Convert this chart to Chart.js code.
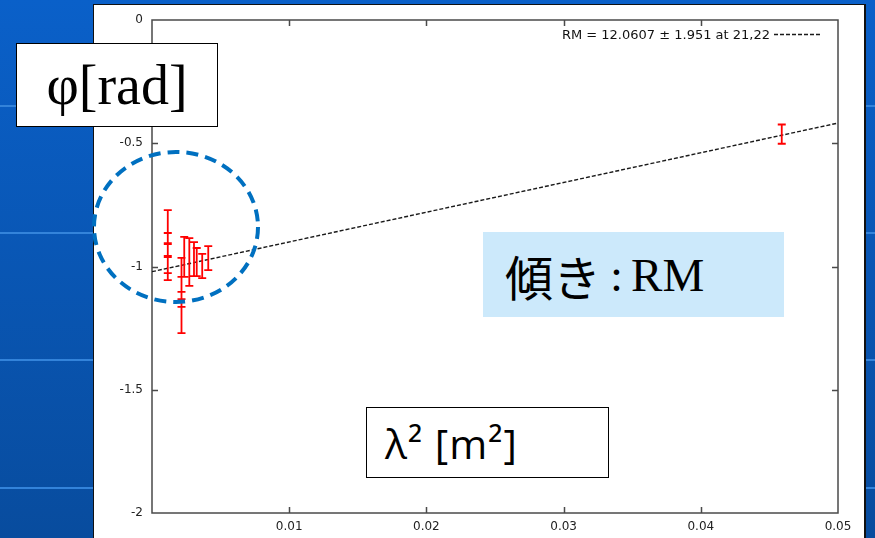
<!DOCTYPE html>
<html>
<head>
<meta charset="utf-8">
<script src="https://cdn.jsdelivr.net/npm/chart.js@4.4.0/dist/chart.umd.min.js"></script>
<style>
html, body { margin: 0; padding: 0; width: 875px; height: 538px; overflow: hidden; }
body { position: relative; background: linear-gradient(#0a60c9, #084c9e); }
.stripe { position: absolute; left: 0; width: 875px; height: 2px; background: #3383da; }
#panel { position: absolute; left: 93px; top: 4px; width: 773px; height: 560px; box-sizing: border-box;
  background: #fff; border: 1px solid #111; border-right-width: 2px; }
#chart { position: absolute; left: 0; top: 0; }
#ring { position: absolute; left: 0; top: 0; }
.box { position: absolute; box-sizing: border-box; display: flex; align-items: center; }
#phiBox { left: 16px; top: 43px; width: 202px; height: 84px; background: #fff; border: 1.5px solid #000;
  justify-content: center; font: 56px "Liberation Serif", serif; color: #000; }
#rmBox { left: 483px; top: 232px; width: 301px; height: 85px; background: #cce9fb; padding-left: 22px; color: #000; }
#rmBox .jp { font: 48px "Noto Sans CJK JP", sans-serif; }
#rmBox .en { font: 47px "Liberation Serif", serif; }
#rmBox .colon { margin: 0 8px 0 9px; }
#lamBox { left: 366px; top: 407px; width: 243px; height: 71px; background: #fff; border: 1.5px solid #000;
  padding-left: 18px; font: 41px "Open Sans", sans-serif; letter-spacing: 1px; color: #000; }
</style>
</head>
<body>
<div class="stripe" style="top:105px"></div>
<div class="stripe" style="top:232px"></div>
<div class="stripe" style="top:359px"></div>
<div class="stripe" style="top:487px"></div>
<div id="panel"></div>
<canvas id="chart" width="875" height="538"></canvas>
<svg id="ring" width="875" height="538">
  <ellipse cx="176" cy="227" rx="82" ry="75" fill="none" stroke="#0070c0" stroke-width="4" stroke-dasharray="12 7"/>
</svg>
<div class="box" id="phiBox">φ[rad]</div>
<div class="box" id="rmBox"><span class="jp">傾き</span><span class="en"><span class="colon">:</span>RM</span></div>
<div class="box" id="lamBox">λ² [m²]</div>

<script>
// measured points (lambda^2 in m^2, phase in rad)
const lambda2 = [0.00115, 0.00115, 0.00115, 0.00115, 0.00215, 0.00215, 0.00215, 0.00235,
                 0.00272, 0.00306, 0.00326, 0.00366, 0.00410, 0.0459];
const phi     = [-0.840, -0.913, -0.966, -1.006, -1.034, -1.103, -1.201, -0.961,
                 -0.982, -0.970, -0.982, -0.998, -0.966, -0.463];
const phiErr  = [0.069, 0.049, 0.061, 0.049, 0.069, 0.061, 0.069, 0.081,
                 0.097, 0.069, 0.057, 0.049, 0.049, 0.039];

// fitted line
const fitLabel = 'RM = 12.0607 \u00b1 1.951 at 21,22';
const fitX   = [0, 0.05];
const fitPhi = [-1.021, -0.418];

const xTicks = [0.01, 0.02, 0.03, 0.04, 0.05];
const yTicks = [0, -0.5, -1, -1.5, -2];

const tickFont = { family: 'DejaVu Sans', size: 12 };

// gnuplot style frame with inward ticks on all four sides
const framePlugin = {
    id: 'frame',
    beforeDatasetsDraw(chart) {
        const ctx = chart.ctx;
        const { left, right, top, bottom } = chart.chartArea;
        const xs = chart.scales.x, ys = chart.scales.y;
        ctx.save();
        ctx.strokeStyle = '#4a4a4a';
        ctx.lineWidth = 1.5;
        ctx.strokeRect(left, top, right - left, bottom - top);
        ctx.beginPath();
        xs.ticks.forEach(t => {
            if (t.value <= xs.min || t.value >= xs.max) return;
            const px = Math.round(xs.getPixelForValue(t.value)) + 0.5;
            ctx.moveTo(px, bottom); ctx.lineTo(px, bottom - 6);
            ctx.moveTo(px, top); ctx.lineTo(px, top + 6);
        });
        ys.ticks.forEach(t => {
            if (t.value <= ys.min || t.value >= ys.max) return;
            const py = Math.round(ys.getPixelForValue(t.value)) + 0.5;
            ctx.moveTo(left, py); ctx.lineTo(left + 6, py);
            ctx.moveTo(right, py); ctx.lineTo(right - 6, py);
        });
        ctx.stroke();
        ctx.restore();
    },
    afterDraw(chart) {
        // key in the top right corner
        const ctx = chart.ctx;
        const ds = chart.data.datasets[0];
        ctx.save();
        ctx.font = '13px "DejaVu Sans"';
        ctx.fillStyle = '#111';
        ctx.textAlign = 'right';
        ctx.textBaseline = 'alphabetic';
        ctx.fillText(ds.label, 770, 38.5);
        ctx.strokeStyle = ds.borderColor;
        ctx.lineWidth = ds.borderWidth;
        ctx.setLineDash(ds.borderDash);
        ctx.beginPath();
        ctx.moveTo(774, 34.5); ctx.lineTo(822, 34.5);
        ctx.stroke();
        ctx.restore();
    }
};

// vertical error bars with caps
const errorBarPlugin = {
    id: 'errorBars',
    afterDatasetsDraw(chart) {
        const ctx = chart.ctx;
        const xs = chart.scales.x, ys = chart.scales.y;
        chart.data.datasets.forEach(ds => {
            if (!ds.errors) return;
            ctx.save();
            ctx.strokeStyle = ds.borderColor;
            ctx.lineWidth = 1.8;
            ctx.beginPath();
            ds.data.forEach((d, i) => {
                const px = xs.getPixelForValue(d.x);
                const y1 = ys.getPixelForValue(d.y + ds.errors[i]);
                const y2 = ys.getPixelForValue(d.y - ds.errors[i]);
                ctx.moveTo(px, y1); ctx.lineTo(px, y2);
                ctx.moveTo(px - 4, y1); ctx.lineTo(px + 4, y1);
                ctx.moveTo(px - 4, y2); ctx.lineTo(px + 4, y2);
            });
            ctx.stroke();
            ctx.restore();
        });
    }
};

const ctx = document.getElementById('chart').getContext('2d');
const chart = new Chart(ctx, {
    type: 'scatter',
    data: {
        datasets: [{
            label: fitLabel,
            type: 'line',
            data: fitX.map((x, i) => ({ x: x, y: fitPhi[i] })),
            borderColor: '#1a1a1a',
            borderWidth: 1.4,
            borderDash: [4, 2],
            pointRadius: 0,
            fill: false
        }, {
            label: 'phase',
            data: lambda2.map((x, i) => ({ x: x, y: phi[i] })),
            errors: phiErr,
            borderColor: '#ff0000',
            backgroundColor: '#ff0000',
            pointRadius: 0
        }]
    },
    options: {
        responsive: false,
        animation: false,
        events: [],
        layout: { padding: { left: 112, top: 20, right: 37, bottom: 5 } },
        plugins: { legend: { display: false }, tooltip: { enabled: false } },
        scales: {
            x: {
                type: 'linear', min: 0, max: 0.05,
                afterBuildTicks: s => { s.ticks = [0].concat(xTicks).map(v => ({ value: v })); },
                ticks: { padding: 7, font: tickFont, color: '#222',
                    callback: v => v === 0 ? '' : v.toFixed(2) },
                grid: { display: false, drawTicks: false },
                border: { display: false },
                afterFit: s => { s.height = 20; }
            },
            y: {
                type: 'linear', min: -2, max: 0,
                afterBuildTicks: s => { s.ticks = yTicks.map(v => ({ value: v })); },
                ticks: { padding: 9, font: tickFont, color: '#222',
                    callback: v => String(v) },
                grid: { display: false, drawTicks: false },
                border: { display: false },
                afterFit: s => { s.width = 40; }
            }
        }
    },
    plugins: [framePlugin, errorBarPlugin]
});
</script>
</body>
</html>
